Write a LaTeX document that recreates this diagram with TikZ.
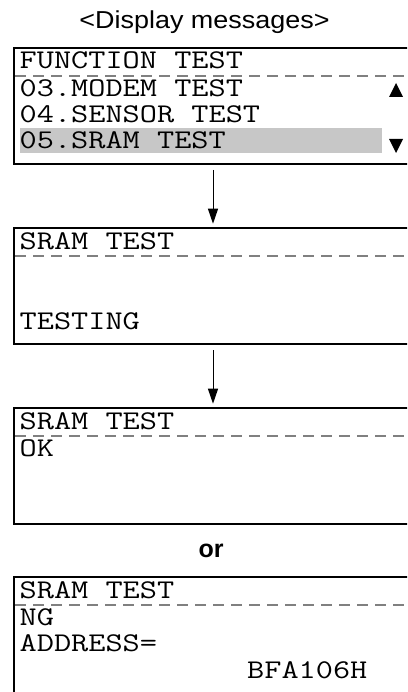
\documentclass[tikz,border=0pt]{standalone}
\usepackage{fontspec}
\setmainfont{Liberation Sans}
\newfontfamily\lcdfont{Latin Modern Mono}
\newcommand\lcdtxt[1]{\scalebox{1.235}[1]{#1}}
\usetikzlibrary{arrows.meta}
\begin{document}
\begin{tikzpicture}[x=1pt,y=-1pt,
  lcdbox/.style={draw, line width=2pt, anchor=north west, minimum width=420pt, minimum height=116pt, inner sep=0pt, outer sep=0pt},
  lcdtext/.style={anchor=base west, inner sep=0pt, font=\lcdfont\fontsize{27}{27}\selectfont},
  sep/.style={draw=black!50, line width=1.3pt, dash pattern=on 11pt off 7pt},
  flow/.style={draw, line width=1pt, -{Triangle[length=15pt,width=10pt]}, shorten >=4pt},
  tri/.style={fill=black}]
\useasboundingbox (0,0) rectangle (407,692);
\clip (0,0) rectangle (407,692);
\fill[white] (0,0) rectangle (407,692);
% title
\node[anchor=base, inner sep=0pt, font=\fontsize{24.5}{24.5}\selectfont] (title) at (204.5,29) {\scalebox{1.1}[1]{<Display messages>}};
% box 1
\node[lcdbox] (b1) at (14,47.7) {};
\fill[black!22] (20,128) rectangle (382,153);
\draw[sep] (15,76) -- (420,76);
\node[lcdtext] (t11) at (19.5,68.5) {\lcdtxt{FUNCTION TEST}};
\node[lcdtext] (t12) at (19.5,97) {\lcdtxt{03.MODEM TEST}};
\node[lcdtext] (t13) at (19.5,123) {\lcdtxt{04.SENSOR TEST}};
\node[lcdtext] (t14) at (19.5,148.5) {\lcdtxt{05.SRAM TEST}};
\fill[tri] (389,97) -- (403,97) -- (396,83) -- cycle;
\fill[tri] (389,139) -- (403,139) -- (396,153) -- cycle;
% box 2
\node[lcdbox] (b2) at (14,227.7) {};
\draw[sep] (15,256) -- (420,256);
\node[lcdtext] (t21) at (19.5,249.5) {\lcdtxt{SRAM TEST}};
\node[lcdtext] (t22) at (19.5,329.5) {\lcdtxt{TESTING}};
% box 3
\node[lcdbox] (b3) at (14,407.7) {};
\draw[sep] (15,436) -- (420,436);
\node[lcdtext] (t31) at (19.5,429.5) {\lcdtxt{SRAM TEST}};
\node[lcdtext] (t32) at (19.5,456.5) {\lcdtxt{OK}};
% or
\node[anchor=base, inner sep=0pt, font=\bfseries\fontsize{25}{25}\selectfont] (or) at (211,557) {or};
% box 4
\node[lcdbox] (b4) at (14,577) {};
\draw[sep] (15,605) -- (420,605);
\node[lcdtext] (t41) at (19.5,598) {\lcdtxt{SRAM TEST}};
\node[lcdtext] (t42) at (19.5,625) {\lcdtxt{NG}};
\node[lcdtext] (t43) at (19.5,651) {\lcdtxt{ADDRESS=}};
\node[lcdtext] (t44) at (247,678) {\lcdtxt{BFA106H}};
% arrows
\coordinate (a1) at (213,170);
\coordinate (a2) at (213,350);
\draw[flow] (a1) -- (b2.north -| a1);
\draw[flow] (a2) -- (b3.north -| a2);
\end{tikzpicture}
\end{document}
